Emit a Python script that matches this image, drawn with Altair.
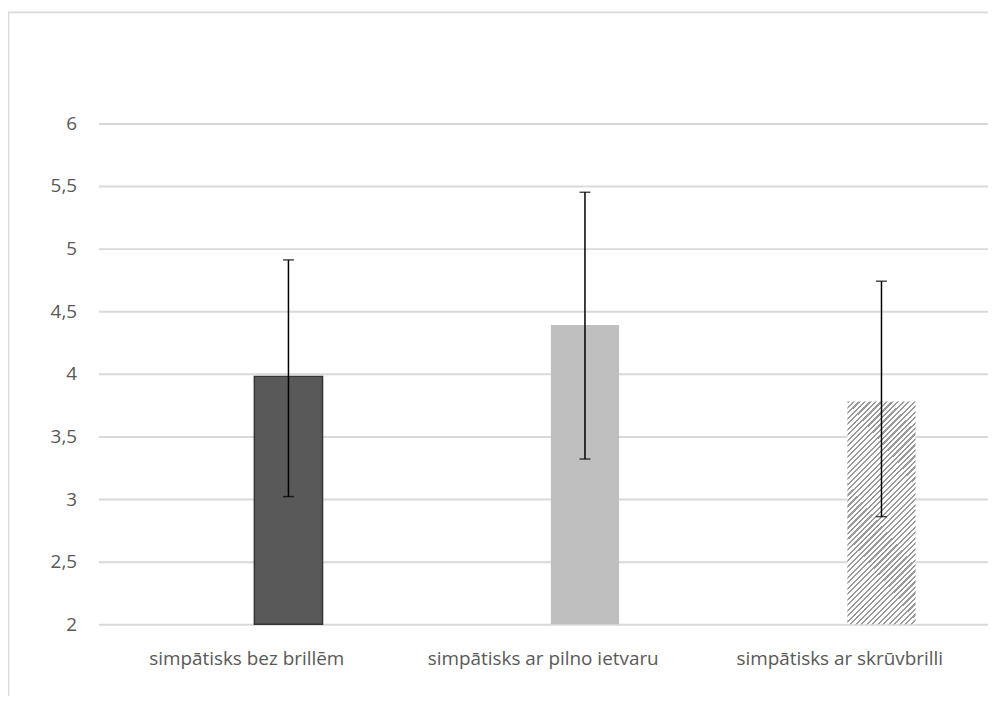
import altair as alt
import pandas as pd

# ---- data ----
categories = ["simpātisks bez brillēm", "simpātisks ar pilno ietvaru", "simpātisks ar skrūvbrilli"]
means = [3.98, 4.39, 3.78]
err_low = [3.02, 3.32, 2.86]
err_high = [4.91, 5.45, 4.74]
y_ticks = [2, 2.5, 3, 3.5, 4, 4.5, 5, 5.5, 6]

df = pd.DataFrame({"cat": categories, "mean": means, "lo": err_low, "hi": err_high})

W, H = 895, 504
FONT = "Open Sans"
GRID = "#d9d9d9"
TEXT = "#595959"
SHIFT = 42          # bars sit right of the category centre, as in the reference
BAR_FRAC = 0.23     # bar width relative to the category band

x_enc = alt.X(
    "cat:N",
    sort=categories,
    scale=alt.Scale(paddingInner=0, paddingOuter=0),
    axis=alt.Axis(
        title=None, labelAngle=0, labelFont=FONT, labelFontSize=19, labelColor=TEXT,
        labelPadding=25, labelLimit=0, domain=False, ticks=False, grid=False,
    ),
)
y_scale = alt.Scale(domain=[y_ticks[0], y_ticks[-1]], nice=False, zero=False)
y_axis = alt.Axis(
    title=None, values=y_ticks,
    labelExpr="replace(toString(datum.value), '.', ',')",
    labelFont=FONT, labelFontSize=19, labelColor=TEXT, labelPadding=22,
    domain=False, ticks=False, grid=True, gridColor=GRID, gridWidth=2,
)

base = alt.Chart(df)

# hatch pattern for the third bar, approximated with a striped linear gradient
N = 53
stops = []
for i in range(N):
    a = i / N
    b = (i + 0.40) / N
    c = (i + 1) / N
    stops += [
        alt.GradientStop(color="#9a9a9a", offset=a),
        alt.GradientStop(color="#9a9a9a", offset=b),
        alt.GradientStop(color="#ffffff", offset=b),
        alt.GradientStop(color="#ffffff", offset=c),
    ]
hatch = alt.LinearGradient(gradient="linear", stops=stops, x1=0, y1=0, x2=0.362, y2=1.193)

bw = alt.RelativeBandSize(BAR_FRAC)

bar1 = base.transform_filter(alt.datum.cat == categories[0]).mark_bar(
    fill="#595959", stroke="#363636", strokeWidth=1.5, width=bw, xOffset=SHIFT
).encode(x=x_enc, y=alt.Y("mean:Q", scale=y_scale, axis=y_axis), y2=alt.datum(y_ticks[0]))

bar2 = base.transform_filter(alt.datum.cat == categories[1]).mark_bar(
    fill="#bfbfbf", width=bw, xOffset=SHIFT
).encode(x=x_enc, y=alt.Y("mean:Q", scale=y_scale, axis=y_axis), y2=alt.datum(y_ticks[0]))

bar3 = base.transform_filter(alt.datum.cat == categories[2]).mark_bar(
    fill=hatch, width=bw, xOffset=SHIFT
).encode(x=x_enc, y=alt.Y("mean:Q", scale=y_scale, axis=y_axis), y2=alt.datum(y_ticks[0]))

err = base.mark_rule(color="#000000", strokeWidth=1.5, xOffset=SHIFT).encode(
    x=x_enc, y=alt.Y("lo:Q", scale=y_scale, axis=y_axis), y2="hi:Q"
)
cap_lo = base.mark_tick(color="#000000", thickness=1.5, size=11, xOffset=SHIFT).encode(
    x=x_enc, y=alt.Y("lo:Q", scale=y_scale, axis=y_axis)
)
cap_hi = base.mark_tick(color="#000000", thickness=1.5, size=11, xOffset=SHIFT).encode(
    x=x_enc, y=alt.Y("hi:Q", scale=y_scale, axis=y_axis)
)

frame_data = alt.Data(values=[{}])
frame_top = alt.Chart(frame_data).mark_rule(color=GRID, strokeWidth=2).encode(
    x=alt.value(-91), x2=alt.value(W + 20), y=alt.value(-111.7)
)
frame_left = alt.Chart(frame_data).mark_rule(color=GRID, strokeWidth=2).encode(
    x=alt.value(-90.7), y=alt.value(-112), y2=alt.value(H + 200)
)

chart = alt.layer(
    frame_top, frame_left, bar1, bar2, bar3, err, cap_lo, cap_hi
).properties(
    width=W, height=H,
    padding={"left": 91, "top": 114, "right": 0, "bottom": 70},
    autosize=alt.AutoSizeParams(type="none"),
).configure_view(stroke=None)

chart.save("out.html", embed_options={"renderer": "svg", "actions": False})
